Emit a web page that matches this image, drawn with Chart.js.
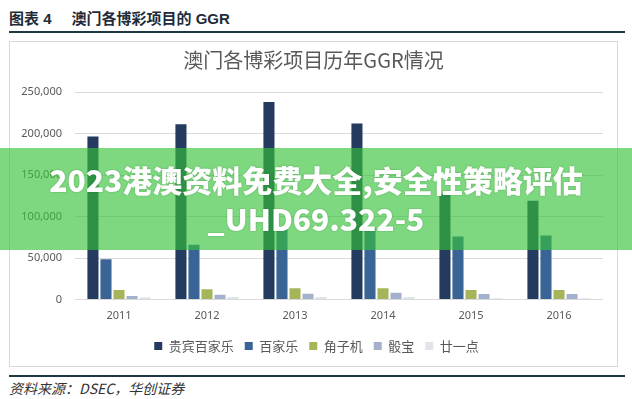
<!DOCTYPE html>
<html>
<head>
<meta charset="utf-8">
<script src="https://cdn.jsdelivr.net/npm/chart.js@4.4.0/dist/chart.umd.min.js"></script>
<style>
    body {
        margin: 0;
        width: 632px;
        height: 399px;
        background: #fff;
        position: relative;
        overflow: hidden;
        font-family: "Noto Sans CJK SC", "Noto Sans", sans-serif;
    }
    #header {
        position: absolute;
        left: 9px;
        top: 7px;
        font-size: 15px;
        font-weight: bold;
        color: #1e2b38;
        font-family: "Liberation Sans", "Noto Sans CJK SC", sans-serif;
    }
    #header span { margin-left: 20px; }
    .rule {
        position: absolute;
        left: 9px;
        width: 616px;
        height: 1.5px;
        background: #1f3644;
    }
    #box {
        position: absolute;
        left: 9px;
        top: 41px;
        width: 609px;
        height: 326px;
        border: 1px solid #d9d9d9;
        box-sizing: border-box;
    }
    #chartWrap {
        position: absolute;
        left: 10px;
        top: 41px;
        width: 606px;
        height: 326px;
    }
    #footer {
        position: absolute;
        left: 9px;
        top: 378px;
        font-size: 14px;
        font-style: italic;
        color: #333;
    }
    #banner {
        position: absolute;
        left: 0;
        top: 148px;
        width: 632px;
        height: 102px;
        background: rgba(53, 194, 56, 0.64);
        color: #fff;
        font-weight: 900;
        font-size: 30px;
        line-height: 39px;
        text-align: center;
        padding-top: 12px;
        box-sizing: border-box;
        text-shadow: 0 0 2px rgba(0, 80, 0, 0.35);
    }
</style>
</head>
<body>
<div id="header">图表 4<span>澳门各博彩项目的 GGR</span></div>
<div class="rule" style="top:31px"></div>
<div id="box"></div>
<div id="chartWrap"><canvas id="ggrChart"></canvas></div>
<div class="rule" style="top:375px"></div>
<div id="footer">资料来源：DSEC，华创证券</div>
<div id="banner">2023港澳资料免费大全,安全性策略评估<br>_UHD69.322-5</div>

<script>
const years = ["2011", "2012", "2013", "2014", "2015", "2016"];
const seriesNames = ["贵宾百家乐", "百家乐", "角子机", "骰宝", "廿一点"];
const vipBaccarat = [196500, 211000, 238000, 212000, 127000, 119000];
const baccarat = [48400, 66000, 86000, 86000, 76000, 77000];
const slots = [11300, 12500, 13700, 13700, 11300, 11300];
const sicbo = [4200, 5800, 7000, 8100, 6600, 6600];
const blackjack = [2600, 3000, 3000, 3000, 1400, 1400];
const yTicks = [0, 50000, 100000, 150000, 200000, 250000];

const colors = ["#243a5e", "#3a6496", "#a5b55a", "#a3b1cc", "#e1e4eb"];
const seriesData = [vipBaccarat, baccarat, slots, sicbo, blackjack];

// title and legend sit a little right of the canvas centre in the original
const nudgeBlocks = {
    id: "nudgeBlocks",
    afterLayout(chart) {
        chart.legend.left += 20;
        chart.titleBlock.left += 14;
    }
};

const ctx = document.getElementById("ggrChart").getContext("2d");
new Chart(ctx, {
    type: "bar",
    data: {
        labels: years,
        datasets: seriesNames.map((name, i) => ({
            label: name,
            data: seriesData[i],
            backgroundColor: colors[i],
            barPercentage: 0.85,
            categoryPercentage: 0.74
        }))
    },
    options: {
        responsive: true,
        maintainAspectRatio: false,
        animation: false,
        layout: {
            padding: { top: 7, right: 13, bottom: 4.5, left: 0 }
        },
        plugins: {
            title: {
                display: true,
                text: "澳门各博彩项目历年GGR情况",
                color: "#595959",
                font: { size: 20, family: "Noto Sans CJK SC", weight: "normal" },
                padding: { top: 0, bottom: 20 }
            },
            legend: {
                position: "bottom",
                labels: {
                    color: "#595959",
                    boxWidth: 8,
                    boxHeight: 8,
                    padding: 11,
                    font: { size: 13, family: "Noto Sans CJK SC" }
                }
            },
            tooltip: { enabled: false }
        },
        scales: {
            x: {
                afterFit: (scale) => { scale.height = 29; },
                grid: { display: false, drawTicks: false },
                border: { display: false },
                ticks: {
                    color: "#595959",
                    padding: 10,
                    font: { size: 11, family: "Noto Sans" }
                }
            },
            y: {
                min: 0,
                max: 250000,
                afterFit: (scale) => { scale.width = 65; },
                afterBuildTicks: (scale) => {
                    scale.ticks = yTicks.map(v => ({ value: v }));
                },
                grid: { color: "#d9d9d9", drawTicks: false },
                border: { display: false },
                ticks: {
                    color: "#595959",
                    padding: 13,
                    font: { size: 11, family: "Noto Sans" },
                    callback: (v) => v.toLocaleString("en-US")
                }
            }
        }
    },
    plugins: [nudgeBlocks]
});
</script>
</body>
</html>
